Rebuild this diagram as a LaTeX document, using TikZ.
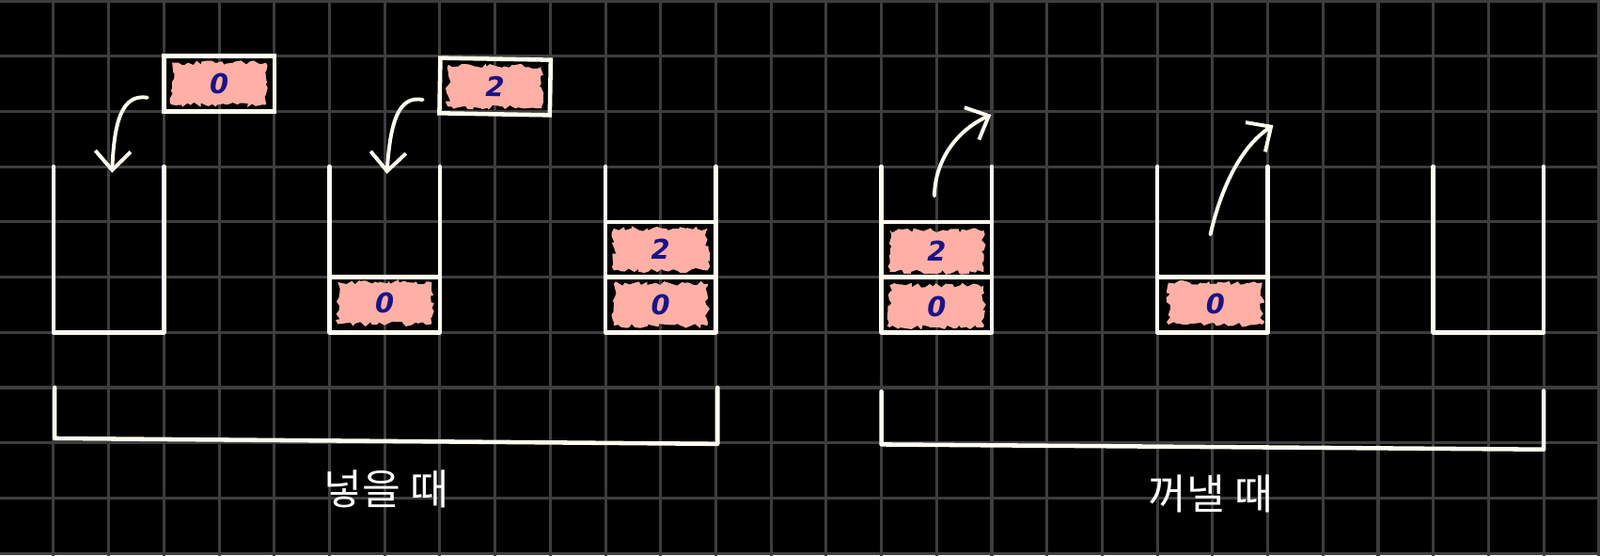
\documentclass[tikz,border=0pt]{standalone}
\usepackage{fontspec}
\newfontfamily\hangul{Noto Sans CJK KR}
\newfontfamily\cifras{DejaVu Sans}
\definecolor{pilaFondo}{HTML}{000000}
\definecolor{pilaRejilla}{HTML}{3D3D3D}
\definecolor{pilaTiza}{HTML}{FFFDF0}
\definecolor{pilaRosa}{HTML}{FFB0A6}
\definecolor{pilaTinta}{HTML}{1A1287}
\usetikzlibrary{
	arrows.meta,
	decorations.pathmorphing
}
\tikzset{
	rejilla/.style={
		draw=pilaRejilla,
		line width=1.5pt
	},
	pared/.style={
		draw=pilaTiza,
		line width=2.2pt,
		line cap=round,
		line join=round
	},
	marco/.style={
		draw=pilaTiza,
		line width=2.2pt,
		minimum width=2cm,
		minimum height=1cm,
		inner sep=0pt
	},
	ficha/.style={
		inner sep=0pt,
		minimum width=1.7cm,
		minimum height=0.76cm,
		text=pilaTinta,
		font=\cifras\bfseries\itshape\fontsize{14}{14}\selectfont,
		preaction={
			fill=pilaRosa,
			decorate,
			decoration={random steps, segment length=2pt, amplitude=1.3pt}
		}
	},
	flecha/.style={
		-{Straight Barb[length=3.4mm, width=6.4mm]},
		draw=pilaTiza,
		line width=1.9pt,
		line cap=round,
		line join=round
	},
	etiqueta/.style={
		text=white,
		font=\hangul\fontsize{21.5}{24}\selectfont
	}
}
\begin{document}
\begin{tikzpicture}
		\useasboundingbox (0.03,-0.034) rectangle (29.02,10.017);
		\fill[pilaFondo] (0.03,-0.034) rectangle (29.02,10.017);
		\foreach \x in {0,...,29}{\draw[rejilla] (\x,-0.2) -- (\x,10.2);}
		\foreach \y in {0,...,10}{\draw[rejilla] (-0.2,\y) -- (29.2,\y);}
		\foreach \x in {1,6,11,16,21,26}{
			\draw[pared] (\x,7) |- ({\x+2},4) -- ({\x+2},7);
		}
		\draw[pared] (6,5) -- (8,5);
		\draw[pared] (11,6) -- (13,6) (11,5) -- (13,5);
		\draw[pared] (16,6) -- (18,6) (16,5) -- (18,5);
		\draw[pared] (21,5) -- (23,5);
		\node[marco] (marcoCero) at (4,8.5) {};
		\node[ficha] (fichaCero) at (marcoCero) {0};
		\node[marco, rotate=-1] (marcoDos) at (9,8.45) {};
		\node[ficha, rotate=-1] (fichaDos) at (marcoDos) {2};
		\node[ficha] (fichaA) at (7,4.53) {0};
		\node[ficha] (fichaB1) at (12,4.5) {0};
		\node[ficha] (fichaB2) at (12,5.5) {2};
		\node[ficha] (fichaC1) at (17,4.47) {0};
		\node[ficha] (fichaC2) at (17,5.47) {2};
		\node[ficha] (fichaD) at (22.05,4.52) {0};
		\coordinate (meteCeroIni) at (2.70,8.25);
		\coordinate (meteCeroFin) at (2.06,6.89);
		\coordinate (meteDosIni) at (7.69,8.21);
		\coordinate (meteDosFin) at (7.04,6.87);
		\coordinate (sacaDosIni) at (16.96,6.47);
		\coordinate (sacaDosFin) at (17.99,7.94);
		\coordinate (sacaCeroIni) at (21.96,5.77);
		\coordinate (sacaCeroFin) at (23.1,7.75);
		\draw[flecha] (meteCeroIni) .. controls (2.25,8.32) and (2.1,7.85) .. (meteCeroFin);
		\draw[flecha] (meteDosIni) .. controls (7.25,8.3) and (7.1,7.8) .. (meteDosFin);
		\draw[flecha] (sacaDosIni) .. controls (16.97,7.1) and (17.35,7.65) .. (sacaDosFin);
		\draw[flecha] (sacaCeroIni) .. controls (22.15,6.6) and (22.5,7.35) .. (sacaCeroFin);
		\draw[pared] (1.02,3) -- (1.02,2.08) -- (13.03,1.98) -- (13.03,3);
		\draw[pared] (16,2.93) -- (16,1.97) -- (28,1.88) -- (28,2.94);
		\node[etiqueta] (meter) at (7.03,1.16) {넣을 때};
		\node[etiqueta] (sacar) at (21.97,1.07) {꺼낼 때};
	\end{tikzpicture}
\end{document}
